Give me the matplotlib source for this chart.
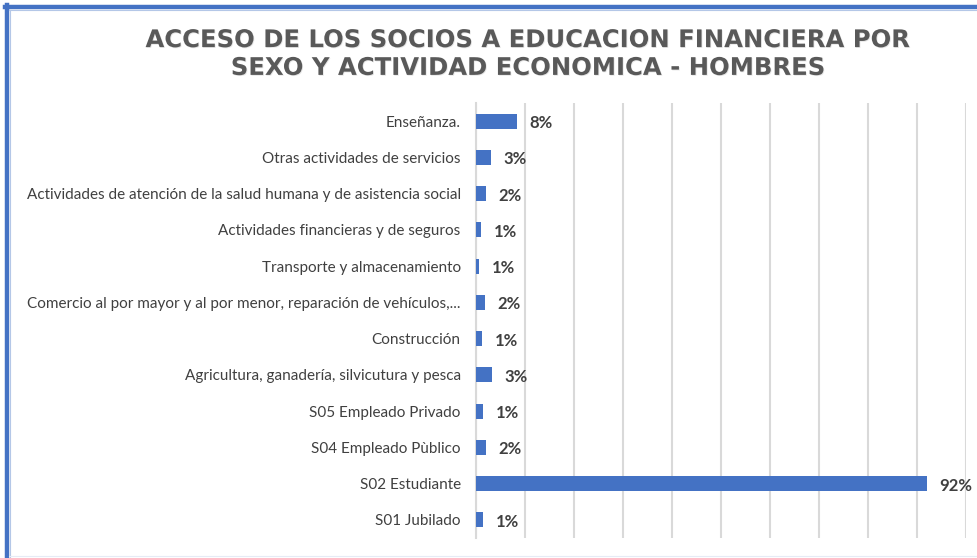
import matplotlib
matplotlib.use("Agg")
import matplotlib.pyplot as plt
from matplotlib.lines import Line2D
import matplotlib.patheffects as pe

categories = [
    "Enseñanza.",
    "Otras actividades de servicios",
    "Actividades de atención de la salud humana y de asistencia social",
    "Actividades financieras y de seguros",
    "Transporte y almacenamiento",
    "Comercio al por mayor y al por menor, reparación de vehículos,...",
    "Construcción",
    "Agricultura, ganadería, silvicutura y pesca",
    "S05 Empleado Privado",
    "S04 Empleado Pùblico",
    "S02 Estudiante",
    "S01 Jubilado",
]
values = [8.4, 3.0, 2.0, 1.0, 0.6, 1.8, 1.2, 3.2, 1.4, 2.0, 92.0, 1.4]
title = "ACCESO DE LOS SOCIOS A EDUCACION FINANCIERA POR\nSEXO Y ACTIVIDAD ECONOMICA - HOMBRES"

W, H = 977, 558
fig = plt.figure(figsize=(W / 100, H / 100), dpi=100)
fig.patch.set_facecolor("white")

ax = fig.add_axes([476 / W, (H - 538) / H, (966 - 476) / W, (538 - 103) / H])
ypos = list(range(len(categories)))
ax.barh(ypos, values, height=0.41, color="#4472C4", zorder=3)
ax.set_ylim(len(categories) - 0.5, -0.5)
ax.set_xlim(0, 100)
ax.set_xticks(range(0, 101, 10))
ax.tick_params(axis="x", length=0, labelbottom=False)
ax.tick_params(axis="y", length=0, pad=11)
ax.set_yticks(ypos)
ax.set_yticklabels(categories, fontsize=11, color="#404040", family="Lato")
ax.grid(axis="x", color="#d9d9d9", linewidth=1.5, zorder=0)
for s in ["top", "right", "bottom"]:
    ax.spines[s].set_visible(False)
ax.spines["left"].set_color("#d9d9d9")
ax.spines["left"].set_linewidth(1.5)

for y, v in zip(ypos, values):
    ax.annotate(f"{v:.0f}%", (v, y), xytext=(9, -1.5), textcoords="offset points",
                va="center", ha="left", fontsize=12, fontweight="bold",
                color="#404040", family="Lato")

fig.text(528 / W, 1 - 54 / H, title, ha="center", va="center", fontsize=17.5,
         fontweight="bold", color="#595959", family="DejaVu Sans", linespacing=1.2,
         path_effects=[pe.withSimplePatchShadow(offset=(0.6, -0.6), shadow_rgbFace="#d0d0d0", alpha=0.5)])

# border
fig.add_artist(Line2D([5 / W, 1], [1 - 7 / H, 1 - 7 / H], color="#4472C4", linewidth=3.2, transform=fig.transFigure))
fig.add_artist(Line2D([7 / W, 7 / W], [0, 1 - 5 / H], color="#4472C4", linewidth=3.2, transform=fig.transFigure))
fig.add_artist(Line2D([9 / W, 1], [1 - 9.8 / H, 1 - 9.8 / H], color="#b4c7e7", linewidth=0.8, transform=fig.transFigure))
fig.add_artist(Line2D([9.8 / W, 9.8 / W], [0, 1 - 9.8 / H], color="#b4c7e7", linewidth=0.8, transform=fig.transFigure))
fig.add_artist(Line2D([9 / W, 1], [2 / H, 2 / H], color="#e6ebf5", linewidth=0.8, transform=fig.transFigure))

fig.savefig("out.png", dpi=100)
